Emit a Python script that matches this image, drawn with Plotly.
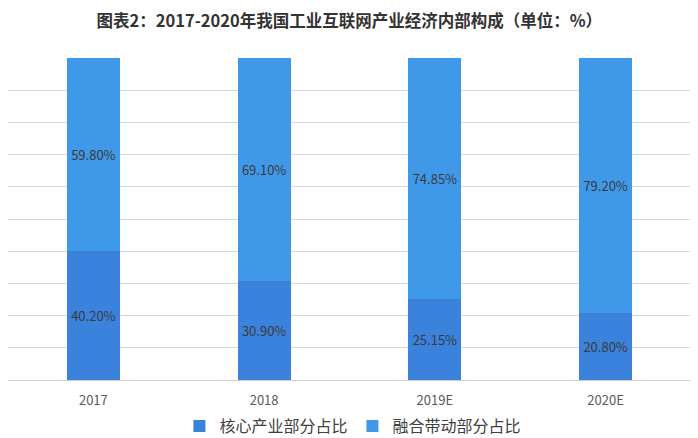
import plotly.graph_objects as go

categories = ["2017", "2018", "2019E", "2020E"]
core_share = [40.20, 30.90, 25.15, 20.80]
fusion_share = [59.80, 69.10, 74.85, 79.20]
series_names = ["核心产业部分占比", "融合带动部分占比"]
title_text = "图表2：2017-2020年我国工业互联网产业经济内部构成（单位：%）"

font_family = "Noto Sans CJK SC, Microsoft YaHei, sans-serif"

fig = go.Figure()
fig.add_trace(go.Bar(
    x=categories, y=core_share, name=series_names[0],
    marker=dict(color="#3B82DD", line=dict(width=0)),
    text=[f"{v:.2f}%" for v in core_share], textposition="inside",
    insidetextanchor="middle",
    textfont=dict(size=13, color="#3a3a3a", family=font_family),
))
fig.add_trace(go.Bar(
    x=categories, y=fusion_share, name=series_names[1],
    marker=dict(color="#3F98E8", line=dict(width=0)),
    text=[f"{v:.2f}%" for v in fusion_share], textposition="inside",
    insidetextanchor="middle",
    textfont=dict(size=13, color="#3a3a3a", family=font_family),
))

fig.update_layout(
    barmode="stack",
    bargap=0.69,
    width=698, height=438,
    margin=dict(l=0, r=15, t=50, b=66, autoexpand=False),
    paper_bgcolor="white", plot_bgcolor="white",
    title=dict(text="<b>" + title_text + "</b>", x=0.489, xanchor="center",
               y=0.97, yanchor="middle",
               font=dict(size=16.5, color="#333333", family=font_family)),
    showlegend=True,
    legend=dict(orientation="h", x=0.505, xanchor="center", y=-0.09, yanchor="top",
                font=dict(size=16, color="#404040", family=font_family),
                itemwidth=30, traceorder="normal"),
    uniformtext=dict(mode=False),
)
fig.update_xaxes(
    showline=True, linecolor="#d0d0d0", linewidth=1, automargin=False,
    ticks="", ticklabelstandoff=8,
    tickfont=dict(size=13, color="#595959", family=font_family),
    showgrid=False,
)
fig.update_yaxes(
    range=[0, 100], dtick=10, showticklabels=False, automargin=False,
    showgrid=True, gridcolor="#d9d9d9", gridwidth=1, zeroline=False,
)

fig.write_html("out.html")
